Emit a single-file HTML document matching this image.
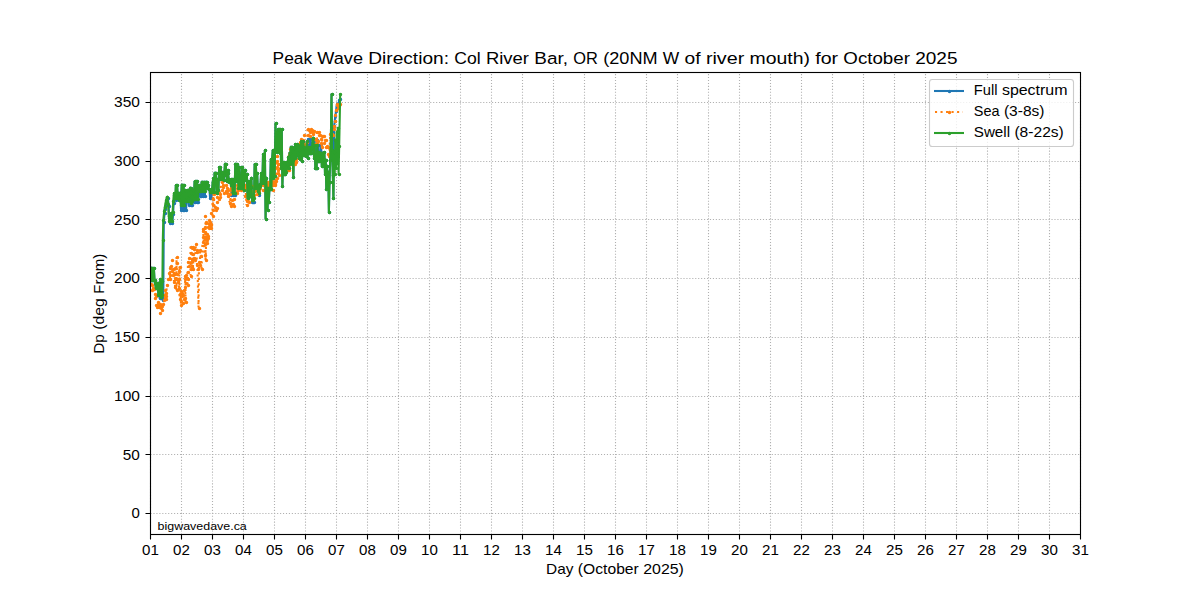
<!DOCTYPE html>
<html lang="en"><head><meta charset="utf-8"><title>Peak Wave Direction: Col River Bar, OR</title>
<style>html,body{margin:0;padding:0;background:#fff;}body{width:1200px;height:600px;overflow:hidden;font-family:"Liberation Sans",sans-serif;}svg{display:block;}text{font-family:"Liberation Sans",sans-serif;fill:#000;}</style></head><body>
<svg width="1200" height="600" viewBox="0 0 1200 600">
<rect width="1200" height="600" fill="#fff"/>
<path d="M150.5 534.5V72.5M181.5 534.5V72.5M212.5 534.5V72.5M243.5 534.5V72.5M274.5 534.5V72.5M305.5 534.5V72.5M336.5 534.5V72.5M367.5 534.5V72.5M398.5 534.5V72.5M429.5 534.5V72.5M460.5 534.5V72.5M491.5 534.5V72.5M522.5 534.5V72.5M553.5 534.5V72.5M584.5 534.5V72.5M615.5 534.5V72.5M646.5 534.5V72.5M677.5 534.5V72.5M708.5 534.5V72.5M739.5 534.5V72.5M770.5 534.5V72.5M801.5 534.5V72.5M832.5 534.5V72.5M863.5 534.5V72.5M894.5 534.5V72.5M925.5 534.5V72.5M956.5 534.5V72.5M987.5 534.5V72.5M1018.5 534.5V72.5M1049.5 534.5V72.5M1080.5 534.5V72.5M150.5 513.5H1080.5M150.5 454.5H1080.5M150.5 396.5H1080.5M150.5 337.5H1080.5M150.5 278.5H1080.5M150.5 219.5H1080.5M150.5 161.5H1080.5M150.5 102.5H1080.5" fill="none" stroke="#b0b0b0" stroke-width="1.111" stroke-dasharray="1.1111 1.8333"/>
<path d="M150.5 534.5v5M181.5 534.5v5M212.5 534.5v5M243.5 534.5v5M274.5 534.5v5M305.5 534.5v5M336.5 534.5v5M367.5 534.5v5M398.5 534.5v5M429.5 534.5v5M460.5 534.5v5M491.5 534.5v5M522.5 534.5v5M553.5 534.5v5M584.5 534.5v5M615.5 534.5v5M646.5 534.5v5M677.5 534.5v5M708.5 534.5v5M739.5 534.5v5M770.5 534.5v5M801.5 534.5v5M832.5 534.5v5M863.5 534.5v5M894.5 534.5v5M925.5 534.5v5M956.5 534.5v5M987.5 534.5v5M1018.5 534.5v5M1049.5 534.5v5M1080.5 534.5v5M150.5 513.5h-5M150.5 454.5h-5M150.5 396.5h-5M150.5 337.5h-5M150.5 278.5h-5M150.5 219.5h-5M150.5 161.5h-5M150.5 102.5h-5" fill="none" stroke="#000" stroke-width="1.11"/>
<defs><clipPath id="ax"><rect x="150" y="72" width="931" height="463"/></clipPath></defs>
<g clip-path="url(#ax)">
<path d="M150 267.7L150.65 280.3L151.29 267.7L151.94 280.3L152.58 267.7L153.23 280.3L153.88 268L154.52 280.3L155.17 283L155.81 288.3L156.46 282.7L157.1 288.3L157.75 282.7L158.4 295.3L159.04 282.7L159.69 298.3L160.33 279.2L160.98 298.3L161.63 280.7L162.77 299.8L163.3 299.8L163.8 221.5L164.71 212.5L165.35 208.5L166 204.5L166.65 201.5L167.29 198.5L167.94 198.2L168.58 205.5L169.23 217.5L169.88 222.8L170.52 215.2L171.17 221.8L171.81 214.2L172.46 222.8L173.1 213.5L173.75 202.5L174.4 194.5L175.04 195.2L175.69 199.8L175.83 185.2L176.48 198.3L177.13 185.2L177.77 198L178.42 192.7L179.06 199.8L179.71 192.7L180.35 192.7L181 209.55L181.65 184.8L182.29 184.8L182.94 209.55L183.58 184.8L184.23 209.55L184.88 190.45L185.52 197.48L186.17 209.55L186.81 190.2L187.46 201.3L188.1 190.2L188.75 204.7L189.4 194.55L190.04 187.8L190.69 187.8L191.33 204.7L191.98 204.7L192.62 190.45L193.27 193.08L193.92 201.7L194.56 181.45L195.21 201.7L195.85 181.45L196.5 201.7L197.15 181.45L197.79 201.7L198.44 191.5L199.08 185.2L199.73 185.2L200.38 195.7L201.02 195.7L201.67 181.8L202.31 181.8L202.96 195.7L203.6 181.8L204.25 181.8L204.9 195.7L205.54 181.8L206.19 181.8L206.83 181.8L207.48 187.55L208.12 185.2L208.77 188.95L209.42 188.95L210.06 198.3L210.71 188.95L211.35 198.3L212 192.3L212.65 182.2L213.29 178.45L213.94 192.3L214.58 172.8L215.23 172.8L215.88 172.8L216.52 193.05L217.17 179.2L217.81 179.2L218.46 190.3L219.1 167.2L219.75 179.3L220.4 167.2L221.04 172.45L221.69 179.3L222.33 172.45L222.98 172.45L223.62 180.3L224.27 175.34L224.92 163.8L225.56 163.8L226.21 170.2L226.85 181.3L227.5 170.2L228.15 172.8L228.79 182.3L229.44 179.2L230.08 182.5L230.73 179.2L231.38 194.8L232.02 179.2L232.67 194.8L233.31 184.7L233.96 178.8L234.6 194.8L235.25 163.8L235.9 181.05L236.54 163.8L237.19 166.8L237.83 172.44L238.48 188.3L239.12 166.8L239.77 188.3L240.42 188.3L241.06 188.3L241.71 166.8L242.35 188.3L243 169.8L243.65 190.05L244.29 180.3L244.94 169.8L245.58 180.3L246.23 180.3L246.88 173.7L247.52 198.3L248.17 181.2L248.81 196.3L249.46 181.2L250.1 196.3L250.75 187.43L251.4 177.7L252.04 201.8L252.69 201.8L253.33 201.8L253.98 201.8L254.62 164.3L255.27 188.3L255.92 164.3L256.56 188.3L257.21 172.95L257.85 191.3L258.5 187.91L259.15 195.3L259.79 183.7L260.44 186.3L261.08 172.95L261.73 183.3L262.38 183.3L263.02 154L263.67 183.3L264.31 160L264.9 150.2L265.6 218.8L266.25 177.7L266.9 192L267.54 209.8L268.19 187.7L268.83 201.8L269.48 187.7L270.13 189.3L270.77 159.2L271.42 189.3L272.06 160L272.71 150.2L273.35 178.3L274 151.7L274.65 176.3L275.5 123.2L275.94 151.3L276.58 131.7L277.23 152.3L277.88 129.2L278.52 150.3L279.17 129.2L279.81 153.3L280.46 129.2L281.1 168.3L281.75 129.2L282.4 186.3L283.04 162.2L283.69 174.3L284.33 162.2L284.98 174.3L285.63 162.2L286.27 172.3L286.92 163.7L287.56 168.3L288.21 156.7L288.85 168.3L289.5 152.7L290.15 164.3L290.79 146.7L291.44 163.3L292.08 146.7L292.73 160L293.38 176.8L294.02 147.7L294.67 158.3L295.31 144.2L295.96 155.3L296.6 144.2L297.25 155.3L297.9 144.7L298.54 158.3L299.19 149.7L299.83 159.3L300.48 147L301.13 141.2L301.77 161L302.42 155.3L303.06 141.2L303.71 146.5L304.35 155.3L305 148.7L305.65 156.3L306.29 148.7L306.94 141.2L307.58 157.8L308.23 139.2L308.88 152.8L309.52 152.8L310.17 139.2L310.81 152.8L311.46 152.8L312.1 147.2L312.75 137.7L313.4 137.7L314.04 158.3L314.69 140.2L315.33 168.3L315.98 168.3L316.62 168.3L317.27 140.2L317.92 161.3L318.56 145.2L319.21 161.3L319.85 155.65L320.5 161.3L321.15 145.2L321.79 166.3L322.44 152.7L323.08 152.7L323.73 166.3L324.4 152L325 174.3L325.7 159.7L326.3 189.3L326.96 165.7L327.6 184.3L328.25 171.7L328.9 212.3L329.5 182L330.2 160L330.85 140L331.5 94.2L332.15 150L332.8 175L333.45 198.3L334.1 126L334.7 121L335.4 116L336 111L336.6 106L337.3 103.5L337.9 108L338.6 104.5L339.2 100L340.2 98.5" fill="none" stroke="#1f77b4" stroke-width="2.08" stroke-linejoin="round" stroke-linecap="square"/><path d="M150.5 268.5h0M151.5 280.5h0M151.5 268.5h0M152.5 280.5h0M153.5 268.5h0M153.5 280.5h0M154.5 268.5h0M155.5 280.5h0M155.5 283.5h0M156.5 288.5h0M156.5 283.5h0M157.5 288.5h0M158.5 283.5h0M158.5 295.5h0M159.5 283.5h0M160.5 298.5h0M160.5 279.5h0M161.5 298.5h0M162.5 281.5h0M163.5 300.5h0M164.5 222.5h0M165.5 213.5h0M165.5 209.5h0M166.5 205.5h0M167.5 202.5h0M167.5 199.5h0M168.5 198.5h0M169.5 206.5h0M169.5 218.5h0M170.5 223.5h0M171.5 215.5h0M171.5 222.5h0M172.5 214.5h0M172.5 223.5h0M173.5 214.5h0M174.5 203.5h0M174.5 195.5h0M175.5 195.5h0M176.5 200.5h0M176.5 185.5h0M176.5 198.5h0M177.5 185.5h0M178.5 198.5h0M178.5 193.5h0M179.5 200.5h0M180.5 193.5h0M181.5 210.5h0M182.5 185.5h0M183.5 210.5h0M184.5 185.5h0M184.5 210.5h0M185.5 190.5h0M186.5 197.5h0M186.5 210.5h0M187.5 190.5h0M187.5 201.5h0M188.5 190.5h0M189.5 205.5h0M189.5 195.5h0M190.5 188.5h0M191.5 188.5h0M191.5 205.5h0M192.5 205.5h0M193.5 190.5h0M193.5 193.5h0M194.5 202.5h0M195.5 181.5h0M195.5 202.5h0M196.5 181.5h0M197.5 202.5h0M197.5 181.5h0M198.5 202.5h0M198.5 191.5h0M199.5 185.5h0M200.5 185.5h0M200.5 196.5h0M201.5 196.5h0M202.5 182.5h0M203.5 196.5h0M204.5 182.5h0M205.5 196.5h0M206.5 182.5h0M207.5 182.5h0M207.5 188.5h0M208.5 185.5h0M209.5 189.5h0M210.5 198.5h0M211.5 189.5h0M211.5 198.5h0M212.5 192.5h0M213.5 182.5h0M213.5 178.5h0M214.5 192.5h0M215.5 173.5h0M216.5 173.5h0M217.5 193.5h0M217.5 179.5h0M218.5 179.5h0M218.5 190.5h0M219.5 167.5h0M220.5 179.5h0M220.5 167.5h0M221.5 172.5h0M222.5 179.5h0M222.5 172.5h0M223.5 172.5h0M224.5 180.5h0M224.5 175.5h0M225.5 164.5h0M226.5 164.5h0M226.5 170.5h0M227.5 181.5h0M228.5 170.5h0M228.5 173.5h0M229.5 182.5h0M229.5 179.5h0M230.5 182.5h0M231.5 179.5h0M231.5 195.5h0M232.5 179.5h0M233.5 195.5h0M233.5 185.5h0M234.5 179.5h0M235.5 195.5h0M235.5 164.5h0M236.5 181.5h0M237.5 164.5h0M237.5 167.5h0M238.5 172.5h0M238.5 188.5h0M239.5 167.5h0M240.5 188.5h0M241.5 188.5h0M242.5 167.5h0M242.5 188.5h0M243.5 170.5h0M244.5 190.5h0M244.5 180.5h0M245.5 170.5h0M246.5 180.5h0M247.5 174.5h0M248.5 198.5h0M248.5 181.5h0M249.5 196.5h0M249.5 181.5h0M250.5 196.5h0M251.5 187.5h0M251.5 178.5h0M252.5 202.5h0M253.5 202.5h0M254.5 202.5h0M255.5 164.5h0M255.5 188.5h0M256.5 164.5h0M257.5 188.5h0M257.5 173.5h0M258.5 191.5h0M259.5 188.5h0M259.5 195.5h0M260.5 184.5h0M260.5 186.5h0M261.5 173.5h0M262.5 183.5h0M263.5 154.5h0M264.5 183.5h0M264.5 160.5h0M265.5 150.5h0M266.5 219.5h0M266.5 178.5h0M267.5 192.5h0M268.5 210.5h0M268.5 188.5h0M269.5 202.5h0M269.5 188.5h0M270.5 189.5h0M271.5 159.5h0M271.5 189.5h0M272.5 160.5h0M273.5 150.5h0M273.5 178.5h0M274.5 152.5h0M275.5 176.5h0M276.5 123.5h0M276.5 151.5h0M277.5 132.5h0M277.5 152.5h0M278.5 129.5h0M279.5 150.5h0M279.5 129.5h0M280.5 153.5h0M280.5 129.5h0M281.5 168.5h0M282.5 129.5h0M282.5 186.5h0M283.5 162.5h0M284.5 174.5h0M284.5 162.5h0M285.5 174.5h0M286.5 162.5h0M286.5 172.5h0M287.5 164.5h0M288.5 168.5h0M288.5 157.5h0M289.5 168.5h0M290.5 153.5h0M290.5 164.5h0M291.5 147.5h0M291.5 163.5h0M292.5 147.5h0M293.5 160.5h0M293.5 177.5h0M294.5 148.5h0M295.5 158.5h0M295.5 144.5h0M296.5 155.5h0M297.5 144.5h0M297.5 155.5h0M298.5 145.5h0M299.5 158.5h0M299.5 150.5h0M300.5 159.5h0M300.5 147.5h0M301.5 141.5h0M302.5 161.5h0M302.5 155.5h0M303.5 141.5h0M304.5 147.5h0M304.5 155.5h0M305.5 149.5h0M306.5 156.5h0M306.5 149.5h0M307.5 141.5h0M308.5 158.5h0M308.5 139.5h0M309.5 153.5h0M310.5 153.5h0M310.5 139.5h0M311.5 153.5h0M312.5 147.5h0M313.5 138.5h0M314.5 158.5h0M315.5 140.5h0M315.5 168.5h0M316.5 168.5h0M317.5 168.5h0M317.5 140.5h0M318.5 161.5h0M319.5 145.5h0M319.5 161.5h0M320.5 156.5h0M321.5 161.5h0M321.5 145.5h0M322.5 166.5h0M322.5 153.5h0M323.5 153.5h0M324.5 166.5h0M324.5 152.5h0M325.5 174.5h0M326.5 160.5h0M326.5 189.5h0M327.5 166.5h0M328.5 184.5h0M328.5 172.5h0M329.5 212.5h0M330.5 182.5h0M330.5 160.5h0M331.5 140.5h0M332.5 94.5h0M332.5 150.5h0M333.5 175.5h0M333.5 198.5h0M334.5 126.5h0M335.5 121.5h0M335.5 116.5h0M336.5 111.5h0M337.5 106.5h0M337.5 104.5h0M338.5 108.5h0M339.5 105.5h0M339.5 100.5h0M340.5 99.5h0" fill="none" stroke="#1f77b4" stroke-width="3.49" stroke-linecap="round"/>
<path d="M166 296L167 284.5M170 278.5L170.5 266M172.5 269L174 281.5M175 287L175 268M176.5 262.5L176.5 290M176.5 290L176.5 257M176.5 257L177 274M179 287.5L179.5 266.5M179.5 266.5L179.5 299M180.5 290.5L181 304.5M185 275.5L185.5 302M185.5 302L185.5 275M187.5 272L187.5 284.5M187.5 284.5L188 261.5M190.5 246.5L190.5 275.5M192 266.5L192.5 247M193 254L193 269M193 269L193.5 257.5M195 259.5L196 243.5M196.5 252L197 265M197.5 269L198.5 307.5M198.5 307.5L199 262M200 264.5L200 249.5M200.5 255.5L201.5 269M201.5 269L202.5 241.5M203 228.5L204.5 255M205.5 222.5L205.5 260M205.5 260L206.5 234M212.5 216L212.5 198.5M213 204.5L213.5 193.5M213.5 193.5L214.5 206.5M220 193.5L221.5 182M228 190L229.5 202.5M230 193.5L230.5 205.5M230.5 205.5L230.5 188M245 184.5L245 196M245.5 187.5L246.5 205M246.5 201L246.88 186.73M248.5 202L250.1 185.62M275.5 181L276.5 161M276.5 156L277 178M278 164L278.5 175M278.5 175L280.46 163.88M288.5 169.5L288.5 155M288.85 165.41L290 148.5M296 161.5L298.54 147.59M306.94 142.25L307.58 129.08M316.62 131.92L317.27 143.08M321.79 147.07L322.44 135.64M329.54 150.22L330.19 134.16M330.83 132.73L331.48 150.98M331.48 150.98L332.12 133.54" fill="none" stroke="#ff7f0e" stroke-width="2.08" stroke-linejoin="round" stroke-linecap="butt" stroke-dasharray="2.08 3.44"/><path d="M151.5 284.5h0M152.5 285.5h0M152.5 290.5h0M153.5 288.5h0M154.5 289.5h0M155.5 294.5h0M155.5 298.5h0M156.5 296.5h0M156.5 305.5h0M157.5 307.5h0M158.5 304.5h0M158.5 302.5h0M159.5 307.5h0M160.5 313.5h0M160.5 304.5h0M161.5 308.5h0M162.5 310.5h0M162.5 306.5h0M163.5 304.5h0M164.5 300.5h0M164.5 295.5h0M165.5 298.5h0M165.5 290.5h0M166.5 293.5h0M166.5 299.5h0M166.5 296.5h0M167.5 285.5h0M168.5 279.5h0M169.5 273.5h0M170.5 275.5h0M170.5 268.5h0M170.5 279.5h0M171.5 266.5h0M172.5 260.5h0M172.5 271.5h0M173.5 275.5h0M173.5 269.5h0M174.5 282.5h0M174.5 273.5h0M175.5 278.5h0M175.5 287.5h0M175.5 268.5h0M177.5 263.5h0M177.5 290.5h0M177.5 257.5h0M177.5 274.5h0M177.5 279.5h0M178.5 282.5h0M179.5 271.5h0M179.5 279.5h0M179.5 288.5h0M180.5 267.5h0M180.5 299.5h0M180.5 294.5h0M181.5 291.5h0M181.5 305.5h0M181.5 301.5h0M182.5 293.5h0M182.5 296.5h0M183.5 303.5h0M183.5 295.5h0M184.5 299.5h0M184.5 290.5h0M185.5 298.5h0M185.5 287.5h0M185.5 279.5h0M185.5 276.5h0M186.5 302.5h0M186.5 275.5h0M186.5 283.5h0M187.5 278.5h0M188.5 279.5h0M188.5 272.5h0M188.5 285.5h0M188.5 262.5h0M189.5 266.5h0M189.5 258.5h0M191.5 253.5h0M191.5 247.5h0M191.5 276.5h0M191.5 269.5h0M191.5 262.5h0M192.5 259.5h0M192.5 267.5h0M193.5 247.5h0M193.5 254.5h0M193.5 269.5h0M194.5 258.5h0M194.5 249.5h0M195.5 260.5h0M196.5 244.5h0M197.5 250.5h0M197.5 252.5h0M197.5 265.5h0M198.5 269.5h0M199.5 308.5h0M199.5 262.5h0M200.5 265.5h0M200.5 250.5h0M201.5 256.5h0M202.5 269.5h0M203.5 242.5h0M203.5 237.5h0M203.5 231.5h0M203.5 229.5h0M205.5 255.5h0M205.5 244.5h0M205.5 239.5h0M205.5 232.5h0M205.5 237.5h0M205.5 227.5h0M205.5 216.5h0M206.5 222.5h0M206.5 223.5h0M206.5 260.5h0M207.5 234.5h0M207.5 240.5h0M207.5 243.5h0M208.5 236.5h0M208.5 238.5h0M208.5 227.5h0M209.5 224.5h0M209.5 223.5h0M209.5 228.5h0M209.5 220.5h0M210.5 226.5h0M210.5 222.5h0M211.5 228.5h0M211.5 225.5h0M211.5 224.5h0M211.5 213.5h0M213.5 216.5h0M213.5 199.5h0M213.5 210.5h0M213.5 205.5h0M214.5 194.5h0M215.5 207.5h0M216.5 210.5h0M217.5 208.5h0M217.5 202.5h0M217.5 197.5h0M219.5 199.5h0M220.5 197.5h0M220.5 194.5h0M222.5 182.5h0M222.5 190.5h0M223.5 185.5h0M223.5 187.5h0M224.5 193.5h0M226.5 185.5h0M226.5 191.5h0M227.5 188.5h0M227.5 193.5h0M228.5 196.5h0M228.5 190.5h0M230.5 203.5h0M230.5 194.5h0M231.5 206.5h0M231.5 188.5h0M231.5 190.5h0M232.5 200.5h0M233.5 204.5h0M234.5 206.5h0M234.5 199.5h0M237.5 188.5h0M237.5 193.5h0M237.5 185.5h0M237.5 191.5h0M238.5 190.5h0M238.5 186.5h0M241.5 190.5h0M243.5 187.5h0M244.5 187.5h0M245.5 185.5h0M245.5 196.5h0M246.5 188.5h0M247.5 205.5h0M247.5 201.5h0M247.5 187.5h0M248.5 186.5h0M248.5 194.5h0M249.5 202.5h0M250.5 186.5h0M251.5 191.5h0M251.5 196.5h0M252.5 186.5h0M254.5 195.5h0M255.5 191.5h0M256.5 184.5h0M256.5 190.5h0M257.5 194.5h0M258.5 187.5h0M259.5 191.5h0M259.5 190.5h0M260.5 188.5h0M261.5 179.5h0M262.5 178.5h0M262.5 182.5h0M263.5 177.5h0M263.5 185.5h0M263.5 182.5h0M263.5 183.5h0M263.5 190.5h0M264.5 185.5h0M264.5 182.5h0M265.5 183.5h0M266.5 185.5h0M266.5 182.5h0M267.5 183.5h0M267.5 186.5h0M267.5 182.5h0M267.5 185.5h0M268.5 182.5h0M269.5 188.5h0M269.5 183.5h0M269.5 185.5h0M270.5 182.5h0M271.5 183.5h0M271.5 185.5h0M272.5 181.5h0M272.5 182.5h0M273.5 190.5h0M273.5 183.5h0M273.5 185.5h0M274.5 182.5h0M275.5 184.5h0M275.5 183.5h0M275.5 185.5h0M276.5 181.5h0M277.5 161.5h0M277.5 156.5h0M277.5 178.5h0M277.5 167.5h0M278.5 170.5h0M278.5 173.5h0M278.5 164.5h0M279.5 175.5h0M280.5 164.5h0M281.5 166.5h0M282.5 163.5h0M283.5 169.5h0M284.5 167.5h0M284.5 170.5h0M285.5 168.5h0M286.5 171.5h0M286.5 168.5h0M287.5 170.5h0M289.5 170.5h0M289.5 155.5h0M289.5 165.5h0M290.5 149.5h0M291.5 155.5h0M291.5 158.5h0M292.5 155.5h0M293.5 163.5h0M293.5 153.5h0M294.5 161.5h0M295.5 164.5h0M296.5 159.5h0M296.5 162.5h0M299.5 148.5h0M299.5 146.5h0M300.5 142.5h0M300.5 143.5h0M301.5 139.5h0M302.5 143.5h0M302.5 141.5h0M303.5 140.5h0M304.5 135.5h0M304.5 144.5h0M305.5 147.5h0M306.5 147.5h0M306.5 145.5h0M307.5 142.5h0M308.5 129.5h0M308.5 135.5h0M309.5 130.5h0M310.5 136.5h0M310.5 132.5h0M311.5 129.5h0M311.5 131.5h0M312.5 130.5h0M313.5 134.5h0M313.5 133.5h0M314.5 131.5h0M315.5 139.5h0M315.5 144.5h0M316.5 140.5h0M317.5 132.5h0M317.5 143.5h0M318.5 141.5h0M319.5 135.5h0M319.5 132.5h0M320.5 135.5h0M321.5 143.5h0M321.5 139.5h0M322.5 147.5h0M322.5 136.5h0M323.5 136.5h0M324.5 136.5h0M324.5 143.5h0M325.5 140.5h0M326.5 140.5h0M326.5 147.5h0M327.5 146.5h0M328.5 147.5h0M328.5 154.5h0M329.5 156.5h0M330.5 150.5h0M330.5 134.5h0M331.5 133.5h0M331.5 151.5h0M332.5 134.5h0M333.5 135.5h0M334.5 129.5h0M334.5 126.5h0M335.5 121.5h0M335.5 115.5h0M336.5 110.5h0M337.5 105.5h0M337.5 104.5h0M338.5 108.5h0M339.5 105.5h0M339.5 106.5h0M340.5 104.5h0" fill="none" stroke="#ff7f0e" stroke-width="3.49" stroke-linecap="round"/>
<path d="M150 267.7L150.65 280.3L151.29 267.7L151.94 280.3L152.58 267.7L153.23 280.3L153.88 268L154.52 280.3L155.17 283L155.81 288.3L156.46 282.7L157.1 288.3L157.75 282.7L158.4 295.3L159.04 282.7L159.69 295.3L160.33 279.2L160.98 297L161.63 280.7L162.27 295.3L162.8 240L163.3 220L164.21 211L164.85 207L165.5 203L166.15 200L166.79 197L167.44 196.7L168.08 204L168.73 216L169.38 221.3L170.02 213.7L170.67 220.3L171.31 212.7L171.96 221.3L172.6 212L173.25 201L173.9 193L174.54 193.7L175.19 198.3L175.83 185.2L176.48 198.3L177.13 185.2L177.77 198L178.42 192.7L179.06 199.8L179.71 192.7L180.35 192.7L181 205.05L181.65 184.8L182.29 184.8L182.94 205.05L183.58 184.8L184.23 205.05L184.88 190.45L185.52 197.48L186.17 201.3L186.81 190.2L187.46 201.3L188.1 190.2L188.75 201.3L189.4 194.55L190.04 187.8L190.69 187.8L191.33 202.8L191.98 201.3L192.62 190.45L193.27 193.08L193.92 199.05L194.56 181.45L195.21 199.05L195.85 181.45L196.5 199.05L197.15 181.45L197.79 199.05L198.44 191.5L199.08 185.2L199.73 185.2L200.38 190.8L201.02 190.8L201.67 181.8L202.31 181.8L202.96 190.8L203.6 181.8L204.25 181.8L204.9 190.8L205.54 181.8L206.19 181.8L206.83 181.8L207.48 187.55L208.12 185.2L208.77 188.95L209.42 188.95L210.06 192.3L210.71 188.95L211.35 192.3L212 192.3L212.65 182.2L213.29 178.45L213.94 192.3L214.58 172.8L215.23 172.8L215.88 172.8L216.52 193.05L217.17 179.2L217.81 179.2L218.46 190.3L219.1 167.2L219.75 179.3L220.4 167.2L221.04 172.45L221.69 179.3L222.33 172.45L222.98 172.45L223.62 180.3L224.27 175.34L224.92 163.8L225.56 163.8L226.21 170.2L226.85 181.3L227.5 170.2L228.15 172.8L228.79 182.3L229.44 179.2L230.08 182.5L230.73 179.2L231.38 184.8L232.02 179.2L232.67 193.3L233.31 184.7L233.96 178.8L234.6 193.3L235.25 163.8L235.9 181.05L236.54 163.8L237.19 166.8L237.83 172.44L238.48 188.3L239.12 166.8L239.77 188.3L240.42 188.3L241.06 188.3L241.71 166.8L242.35 188.3L243 169.8L243.65 190.05L244.29 180.3L244.94 169.8L245.58 180.3L246.23 180.3L246.88 173.7L247.52 198.3L248.17 181.2L248.81 196.3L249.46 181.2L250.1 196.3L250.75 187.43L251.4 177.7L252.04 199.8L252.69 199.8L253.33 198.3L253.98 198.3L254.62 164.3L255.27 188.3L255.92 164.3L256.56 188.3L257.21 172.95L257.85 191.3L258.5 187.91L259.15 193.3L259.79 183.7L260.44 186.3L261.08 172.95L261.73 183.3L262.38 183.3L263.02 154L263.67 183.3L264.31 160L264.9 150.2L265.6 218.8L266.25 177.7L266.9 192L267.54 209.8L268.19 187.7L268.83 201.8L269.48 187.7L270.13 189.3L270.77 159.2L271.42 189.3L272.06 160L272.71 150.2L273.35 178.3L274 151.7L274.65 176.3L275.5 123.2L275.94 151.3L276.58 131.7L277.23 152.3L277.88 129.2L278.52 150.3L279.17 129.2L279.81 153.3L280.46 129.2L281.1 168.3L281.75 129.2L282.4 186.3L283.04 162.2L283.69 174.3L284.33 162.2L284.98 174.3L285.63 162.2L286.27 172.3L286.92 163.7L287.56 168.3L288.21 156.7L288.85 168.3L289.5 152.7L290.15 164.3L290.79 146.7L291.44 163.3L292.08 146.7L292.73 160L293.38 176.8L294.02 147.7L294.67 158.3L295.31 144.2L295.96 155.3L296.6 144.2L297.25 155.3L297.9 144.7L298.54 158.3L299.19 149.7L299.83 159.3L300.48 147L301.13 141.2L301.77 161L302.42 155.3L303.06 141.2L303.71 146.5L304.35 155.3L305 148.7L305.65 156.3L306.29 148.7L306.94 141.2L307.58 157.8L308.23 147.2L308.88 152.8L309.52 152.8L310.17 147.2L310.81 152.8L311.46 152.8L312.1 147.2L312.75 137.7L313.4 137.7L314.04 158.3L314.69 144.7L315.33 168.3L315.98 168.3L316.62 168.3L317.27 144.7L317.92 161.3L318.56 151.7L319.21 161.3L319.85 155.65L320.5 161.3L321.15 152.7L321.79 166.3L322.44 152.7L323.08 152.7L323.73 166.3L324.4 152L325 174.3L325.7 159.7L326.3 189.3L326.96 165.7L327.6 184.3L328.25 171.7L328.9 212.3L329.5 182L330.2 160L330.85 140L331.5 94.2L332.15 150L332.8 175L333.45 198.3L334.1 151.7L334.7 174.3L335.4 139.7L336 168.3L336.6 131.7L337.3 163.3L337.9 127.7L338.6 174.3L339.2 146L340.2 94.2" fill="none" stroke="#2ca02c" stroke-width="2.08" stroke-linejoin="round" stroke-linecap="square"/><path d="M150.5 268.5h0M151.5 280.5h0M151.5 268.5h0M152.5 280.5h0M153.5 268.5h0M153.5 280.5h0M154.5 268.5h0M155.5 280.5h0M155.5 283.5h0M156.5 288.5h0M156.5 283.5h0M157.5 288.5h0M158.5 283.5h0M158.5 295.5h0M159.5 283.5h0M160.5 295.5h0M160.5 279.5h0M161.5 297.5h0M162.5 281.5h0M162.5 295.5h0M163.5 240.5h0M163.5 220.5h0M164.5 211.5h0M165.5 207.5h0M166.5 203.5h0M166.5 200.5h0M167.5 197.5h0M168.5 204.5h0M169.5 216.5h0M169.5 221.5h0M170.5 214.5h0M171.5 220.5h0M171.5 213.5h0M172.5 221.5h0M173.5 212.5h0M173.5 201.5h0M174.5 193.5h0M175.5 194.5h0M175.5 198.5h0M176.5 185.5h0M176.5 198.5h0M177.5 185.5h0M178.5 198.5h0M178.5 193.5h0M179.5 200.5h0M180.5 193.5h0M181.5 205.5h0M182.5 185.5h0M183.5 205.5h0M184.5 185.5h0M184.5 205.5h0M185.5 190.5h0M186.5 197.5h0M186.5 201.5h0M187.5 190.5h0M187.5 201.5h0M188.5 190.5h0M189.5 201.5h0M189.5 195.5h0M190.5 188.5h0M191.5 188.5h0M191.5 203.5h0M192.5 201.5h0M193.5 190.5h0M193.5 193.5h0M194.5 199.5h0M195.5 181.5h0M195.5 199.5h0M196.5 181.5h0M197.5 199.5h0M197.5 181.5h0M198.5 199.5h0M198.5 191.5h0M199.5 185.5h0M200.5 185.5h0M200.5 191.5h0M201.5 191.5h0M202.5 182.5h0M203.5 191.5h0M204.5 182.5h0M205.5 191.5h0M206.5 182.5h0M207.5 182.5h0M207.5 188.5h0M208.5 185.5h0M209.5 189.5h0M210.5 192.5h0M211.5 189.5h0M211.5 192.5h0M212.5 192.5h0M213.5 182.5h0M213.5 178.5h0M214.5 192.5h0M215.5 173.5h0M216.5 173.5h0M217.5 193.5h0M217.5 179.5h0M218.5 179.5h0M218.5 190.5h0M219.5 167.5h0M220.5 179.5h0M220.5 167.5h0M221.5 172.5h0M222.5 179.5h0M222.5 172.5h0M223.5 172.5h0M224.5 180.5h0M224.5 175.5h0M225.5 164.5h0M226.5 164.5h0M226.5 170.5h0M227.5 181.5h0M228.5 170.5h0M228.5 173.5h0M229.5 182.5h0M229.5 179.5h0M230.5 182.5h0M231.5 179.5h0M231.5 185.5h0M232.5 179.5h0M233.5 193.5h0M233.5 185.5h0M234.5 179.5h0M235.5 193.5h0M235.5 164.5h0M236.5 181.5h0M237.5 164.5h0M237.5 167.5h0M238.5 172.5h0M238.5 188.5h0M239.5 167.5h0M240.5 188.5h0M241.5 188.5h0M242.5 167.5h0M242.5 188.5h0M243.5 170.5h0M244.5 190.5h0M244.5 180.5h0M245.5 170.5h0M246.5 180.5h0M247.5 174.5h0M248.5 198.5h0M248.5 181.5h0M249.5 196.5h0M249.5 181.5h0M250.5 196.5h0M251.5 187.5h0M251.5 178.5h0M252.5 200.5h0M253.5 200.5h0M253.5 198.5h0M254.5 198.5h0M255.5 164.5h0M255.5 188.5h0M256.5 164.5h0M257.5 188.5h0M257.5 173.5h0M258.5 191.5h0M259.5 188.5h0M259.5 193.5h0M260.5 184.5h0M260.5 186.5h0M261.5 173.5h0M262.5 183.5h0M263.5 154.5h0M264.5 183.5h0M264.5 160.5h0M265.5 150.5h0M266.5 219.5h0M266.5 178.5h0M267.5 192.5h0M268.5 210.5h0M268.5 188.5h0M269.5 202.5h0M269.5 188.5h0M270.5 189.5h0M271.5 159.5h0M271.5 189.5h0M272.5 160.5h0M273.5 150.5h0M273.5 178.5h0M274.5 152.5h0M275.5 176.5h0M276.5 123.5h0M276.5 151.5h0M277.5 132.5h0M277.5 152.5h0M278.5 129.5h0M279.5 150.5h0M279.5 129.5h0M280.5 153.5h0M280.5 129.5h0M281.5 168.5h0M282.5 129.5h0M282.5 186.5h0M283.5 162.5h0M284.5 174.5h0M284.5 162.5h0M285.5 174.5h0M286.5 162.5h0M286.5 172.5h0M287.5 164.5h0M288.5 168.5h0M288.5 157.5h0M289.5 168.5h0M290.5 153.5h0M290.5 164.5h0M291.5 147.5h0M291.5 163.5h0M292.5 147.5h0M293.5 160.5h0M293.5 177.5h0M294.5 148.5h0M295.5 158.5h0M295.5 144.5h0M296.5 155.5h0M297.5 144.5h0M297.5 155.5h0M298.5 145.5h0M299.5 158.5h0M299.5 150.5h0M300.5 159.5h0M300.5 147.5h0M301.5 141.5h0M302.5 161.5h0M302.5 155.5h0M303.5 141.5h0M304.5 147.5h0M304.5 155.5h0M305.5 149.5h0M306.5 156.5h0M306.5 149.5h0M307.5 141.5h0M308.5 158.5h0M308.5 147.5h0M309.5 153.5h0M310.5 153.5h0M310.5 147.5h0M311.5 153.5h0M312.5 147.5h0M313.5 138.5h0M314.5 158.5h0M315.5 145.5h0M315.5 168.5h0M316.5 168.5h0M317.5 168.5h0M317.5 145.5h0M318.5 161.5h0M319.5 152.5h0M319.5 161.5h0M320.5 156.5h0M321.5 161.5h0M321.5 153.5h0M322.5 166.5h0M322.5 153.5h0M323.5 153.5h0M324.5 166.5h0M324.5 152.5h0M325.5 174.5h0M326.5 160.5h0M326.5 189.5h0M327.5 166.5h0M328.5 184.5h0M328.5 172.5h0M329.5 212.5h0M330.5 182.5h0M330.5 160.5h0M331.5 140.5h0M332.5 94.5h0M332.5 150.5h0M333.5 175.5h0M333.5 198.5h0M334.5 152.5h0M335.5 174.5h0M335.5 140.5h0M336.5 168.5h0M337.5 132.5h0M337.5 163.5h0M338.5 128.5h0M339.5 174.5h0M339.5 146.5h0M340.5 94.5h0" fill="none" stroke="#2ca02c" stroke-width="3.49" stroke-linecap="round"/>
</g>
<rect x="150.5" y="72.5" width="930" height="462" fill="none" stroke="#000" stroke-width="1.11"/>
<text y="63.5" font-size="16.9"><tspan x="272.6" textLength="39.47" lengthAdjust="spacingAndGlyphs">Peak</tspan> <tspan x="317.36" textLength="45.62" lengthAdjust="spacingAndGlyphs">Wave</tspan> <tspan x="368.26" textLength="80.69" lengthAdjust="spacingAndGlyphs">Direction:</tspan> <tspan x="454.24" textLength="26.39" lengthAdjust="spacingAndGlyphs">Col</tspan> <tspan x="485.92" textLength="43.07" lengthAdjust="spacingAndGlyphs">River</tspan> <tspan x="534.27" textLength="33.71" lengthAdjust="spacingAndGlyphs">Bar,</tspan> <tspan x="573.26" textLength="24.63" lengthAdjust="spacingAndGlyphs">OR</tspan> <tspan x="603.18" textLength="54.41" lengthAdjust="spacingAndGlyphs">(20NM</tspan> <tspan x="662.87" textLength="16.44" lengthAdjust="spacingAndGlyphs">W</tspan> <tspan x="684.59" textLength="16.02" lengthAdjust="spacingAndGlyphs">of</tspan> <tspan x="705.9" textLength="38.35" lengthAdjust="spacingAndGlyphs">river</tspan> <tspan x="749.53" textLength="60.44" lengthAdjust="spacingAndGlyphs">mouth)</tspan> <tspan x="815.25" textLength="22.86" lengthAdjust="spacingAndGlyphs">for</tspan> <tspan x="843.39" textLength="66.52" lengthAdjust="spacingAndGlyphs">October</tspan> <tspan x="915.2" textLength="42.3" lengthAdjust="spacingAndGlyphs">2025</tspan></text>
<text x="142.1" y="554.7" font-size="14.1" text-anchor="start" textLength="16.8" lengthAdjust="spacingAndGlyphs">01</text>
<text x="173.1" y="554.7" font-size="14.1" text-anchor="start" textLength="16.8" lengthAdjust="spacingAndGlyphs">02</text>
<text x="204.1" y="554.7" font-size="14.1" text-anchor="start" textLength="16.8" lengthAdjust="spacingAndGlyphs">03</text>
<text x="235.1" y="554.7" font-size="14.1" text-anchor="start" textLength="16.8" lengthAdjust="spacingAndGlyphs">04</text>
<text x="266.1" y="554.7" font-size="14.1" text-anchor="start" textLength="16.8" lengthAdjust="spacingAndGlyphs">05</text>
<text x="297.1" y="554.7" font-size="14.1" text-anchor="start" textLength="16.8" lengthAdjust="spacingAndGlyphs">06</text>
<text x="328.1" y="554.7" font-size="14.1" text-anchor="start" textLength="16.8" lengthAdjust="spacingAndGlyphs">07</text>
<text x="359.1" y="554.7" font-size="14.1" text-anchor="start" textLength="16.8" lengthAdjust="spacingAndGlyphs">08</text>
<text x="390.1" y="554.7" font-size="14.1" text-anchor="start" textLength="16.8" lengthAdjust="spacingAndGlyphs">09</text>
<text x="421.1" y="554.7" font-size="14.1" text-anchor="start" textLength="16.8" lengthAdjust="spacingAndGlyphs">10</text>
<text x="452.1" y="554.7" font-size="14.1" text-anchor="start" textLength="16.8" lengthAdjust="spacingAndGlyphs">11</text>
<text x="483.1" y="554.7" font-size="14.1" text-anchor="start" textLength="16.8" lengthAdjust="spacingAndGlyphs">12</text>
<text x="514.1" y="554.7" font-size="14.1" text-anchor="start" textLength="16.8" lengthAdjust="spacingAndGlyphs">13</text>
<text x="545.1" y="554.7" font-size="14.1" text-anchor="start" textLength="16.8" lengthAdjust="spacingAndGlyphs">14</text>
<text x="576.1" y="554.7" font-size="14.1" text-anchor="start" textLength="16.8" lengthAdjust="spacingAndGlyphs">15</text>
<text x="607.1" y="554.7" font-size="14.1" text-anchor="start" textLength="16.8" lengthAdjust="spacingAndGlyphs">16</text>
<text x="638.1" y="554.7" font-size="14.1" text-anchor="start" textLength="16.8" lengthAdjust="spacingAndGlyphs">17</text>
<text x="669.1" y="554.7" font-size="14.1" text-anchor="start" textLength="16.8" lengthAdjust="spacingAndGlyphs">18</text>
<text x="700.1" y="554.7" font-size="14.1" text-anchor="start" textLength="16.8" lengthAdjust="spacingAndGlyphs">19</text>
<text x="731.1" y="554.7" font-size="14.1" text-anchor="start" textLength="16.8" lengthAdjust="spacingAndGlyphs">20</text>
<text x="762.1" y="554.7" font-size="14.1" text-anchor="start" textLength="16.8" lengthAdjust="spacingAndGlyphs">21</text>
<text x="793.1" y="554.7" font-size="14.1" text-anchor="start" textLength="16.8" lengthAdjust="spacingAndGlyphs">22</text>
<text x="824.1" y="554.7" font-size="14.1" text-anchor="start" textLength="16.8" lengthAdjust="spacingAndGlyphs">23</text>
<text x="855.1" y="554.7" font-size="14.1" text-anchor="start" textLength="16.8" lengthAdjust="spacingAndGlyphs">24</text>
<text x="886.1" y="554.7" font-size="14.1" text-anchor="start" textLength="16.8" lengthAdjust="spacingAndGlyphs">25</text>
<text x="917.1" y="554.7" font-size="14.1" text-anchor="start" textLength="16.8" lengthAdjust="spacingAndGlyphs">26</text>
<text x="948.1" y="554.7" font-size="14.1" text-anchor="start" textLength="16.8" lengthAdjust="spacingAndGlyphs">27</text>
<text x="979.1" y="554.7" font-size="14.1" text-anchor="start" textLength="16.8" lengthAdjust="spacingAndGlyphs">28</text>
<text x="1010.1" y="554.7" font-size="14.1" text-anchor="start" textLength="16.8" lengthAdjust="spacingAndGlyphs">29</text>
<text x="1041.1" y="554.7" font-size="14.1" text-anchor="start" textLength="16.8" lengthAdjust="spacingAndGlyphs">30</text>
<text x="1072.1" y="554.7" font-size="14.1" text-anchor="start" textLength="16.8" lengthAdjust="spacingAndGlyphs">31</text>
<text x="131.55" y="517.9" font-size="14.1" text-anchor="start" textLength="8.35" lengthAdjust="spacingAndGlyphs">0</text>
<text x="122.8" y="459.9" font-size="14.1" text-anchor="start" textLength="17.1" lengthAdjust="spacingAndGlyphs">50</text>
<text x="114.05" y="400.9" font-size="14.1" text-anchor="start" textLength="25.85" lengthAdjust="spacingAndGlyphs">100</text>
<text x="114.05" y="341.9" font-size="14.1" text-anchor="start" textLength="25.85" lengthAdjust="spacingAndGlyphs">150</text>
<text x="114.05" y="282.9" font-size="14.1" text-anchor="start" textLength="25.85" lengthAdjust="spacingAndGlyphs">200</text>
<text x="114.05" y="224.9" font-size="14.1" text-anchor="start" textLength="25.85" lengthAdjust="spacingAndGlyphs">250</text>
<text x="114.05" y="165.9" font-size="14.1" text-anchor="start" textLength="25.85" lengthAdjust="spacingAndGlyphs">300</text>
<text x="114.05" y="106.9" font-size="14.1" text-anchor="start" textLength="25.85" lengthAdjust="spacingAndGlyphs">350</text>
<text y="574.3" font-size="14.1"><tspan x="546.1" textLength="27.38" lengthAdjust="spacingAndGlyphs">Day</tspan> <tspan x="577.89" textLength="60.9" lengthAdjust="spacingAndGlyphs">(October</tspan> <tspan x="643.2" textLength="40.7" lengthAdjust="spacingAndGlyphs">2025)</tspan></text>
<g transform="translate(104.3 353.8) rotate(-90)"><text y="0" font-size="14.1"><tspan x="0" textLength="19.56" lengthAdjust="spacingAndGlyphs">Dp</tspan> <tspan x="23.98" textLength="31.67" lengthAdjust="spacingAndGlyphs">(deg</tspan> <tspan x="60.08" textLength="39.92" lengthAdjust="spacingAndGlyphs">From)</tspan></text></g>
<text x="157.6" y="530.3" font-size="11.3" text-anchor="start" textLength="89.2" lengthAdjust="spacingAndGlyphs">bigwavedave.ca</text>
<rect x="929.5" y="79.5" width="144" height="67" rx="2.8" ry="2.8" fill="#fff" fill-opacity="0.8" stroke="#ccc" stroke-width="1.11"/>
<path d="M934 91H964" stroke="#1f77b4" stroke-width="2.08" fill="none"/>
<circle cx="949.5" cy="91.5" r="1.745" fill="#1f77b4"/>
<text y="94.7" font-size="14.1"><tspan x="973.8" textLength="23.7" lengthAdjust="spacingAndGlyphs">Full</tspan> <tspan x="1001.91" textLength="65.59" lengthAdjust="spacingAndGlyphs">spectrum</tspan></text>
<path d="M935 112H962.8" stroke="#ff7f0e" stroke-width="2.08" fill="none" stroke-dasharray="2.08 3.44"/>
<circle cx="949.5" cy="112.5" r="1.745" fill="#ff7f0e"/>
<text y="115.65" font-size="14.1"><tspan x="973.8" textLength="25.75" lengthAdjust="spacingAndGlyphs">Sea</tspan> <tspan x="1003.94" textLength="40.56" lengthAdjust="spacingAndGlyphs">(3-8s)</tspan></text>
<path d="M934 133H964" stroke="#2ca02c" stroke-width="2.08" fill="none"/>
<circle cx="949.5" cy="133.5" r="1.745" fill="#2ca02c"/>
<text y="136.6" font-size="14.1"><tspan x="973.8" textLength="36.26" lengthAdjust="spacingAndGlyphs">Swell</tspan> <tspan x="1014.45" textLength="49.35" lengthAdjust="spacingAndGlyphs">(8-22s)</tspan></text>
</svg></body></html>
